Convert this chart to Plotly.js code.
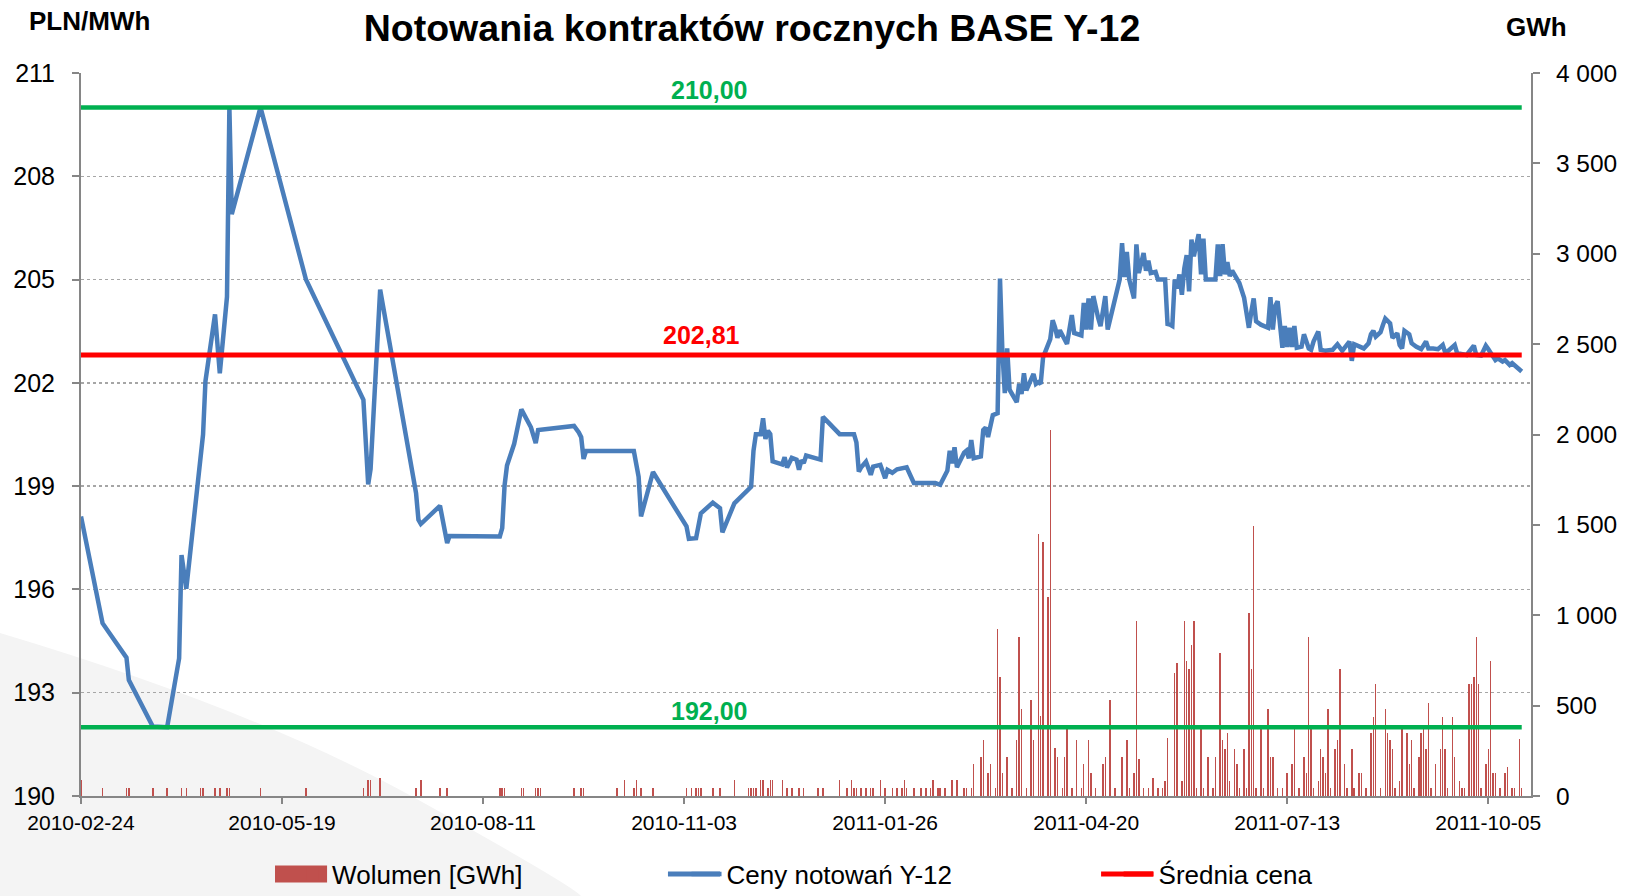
<!DOCTYPE html>
<html>
<head>
<meta charset="utf-8">
<script src="https://cdn.plot.ly/plotly-3.0.1.min.js"></script>
<style>html,body{margin:0;padding:0;background:#fff;}#chart{width:1626px;height:896px;}</style>
</head>
<body>
<div id="chart"></div>
<script>
// ---------- DATA ----------
const priceDates = [
'2010-02-24','2010-03-05','2010-03-15','2010-03-16','2010-03-26','2010-04-01','2010-04-06','2010-04-07','2010-04-09','2010-04-15',
'2010-04-16','2010-04-17','2010-04-21','2010-04-23','2010-04-26','2010-04-27','2010-04-28','2010-05-10','2010-05-29','2010-06-22',
'2010-06-24','2010-06-25','2010-06-29','2010-07-14','2010-07-15','2010-07-16','2010-07-24','2010-07-27','2010-07-28','2010-08-18',
'2010-08-19','2010-08-20','2010-08-21','2010-08-24','2010-08-27','2010-08-31','2010-09-02','2010-09-03','2010-09-18','2010-09-20',
'2010-09-21','2010-09-22','2010-09-23','2010-10-13','2010-10-14','2010-10-15','2010-10-16','2010-10-21','2010-11-04','2010-11-05',
'2010-11-08','2010-11-09','2010-11-10','2010-11-15','2010-11-18','2010-11-19','2010-11-24','2010-12-01','2010-12-02','2010-12-03',
'2010-12-05','2010-12-06','2010-12-07','2010-12-08','2010-12-09','2010-12-10','2010-12-14','2010-12-15','2010-12-16','2010-12-18',
'2010-12-20','2010-12-21','2010-12-22','2010-12-23','2010-12-24','2010-12-30','2010-12-31','2011-01-07','2011-01-13','2011-01-14',
'2011-01-15','2011-01-16','2011-01-18','2011-01-20','2011-01-21','2011-01-24','2011-01-26','2011-01-27','2011-01-29','2011-01-31',
'2011-02-04','2011-02-07','2011-02-16','2011-02-18','2011-02-21','2011-02-22','2011-02-23','2011-02-24','2011-02-25','2011-02-28',
'2011-03-01','2011-03-02','2011-03-03','2011-03-04','2011-03-07','2011-03-08','2011-03-09','2011-03-10','2011-03-11','2011-03-12',
'2011-03-14','2011-03-15','2011-03-16','2011-03-17','2011-03-18','2011-03-19','2011-03-22','2011-03-23','2011-03-24','2011-03-25',
'2011-03-26','2011-03-29','2011-03-30','2011-03-31','2011-04-01','2011-04-02','2011-04-05','2011-04-06','2011-04-07','2011-04-08',
'2011-04-09','2011-04-10','2011-04-12','2011-04-14','2011-04-15','2011-04-18','2011-04-19','2011-04-20','2011-04-21','2011-04-22',
'2011-04-23','2011-04-25','2011-04-26','2011-04-28','2011-04-29','2011-05-04','2011-05-05','2011-05-06','2011-05-07','2011-05-08',
'2011-05-10','2011-05-11','2011-05-12','2011-05-14','2011-05-15','2011-05-16','2011-05-17','2011-05-19','2011-05-20','2011-05-23',
'2011-05-24','2011-05-25','2011-05-26','2011-05-27','2011-05-28','2011-05-29','2011-05-30','2011-05-31','2011-06-01','2011-06-02',
'2011-06-03','2011-06-04','2011-06-06','2011-06-07','2011-06-08','2011-06-09','2011-06-13','2011-06-14','2011-06-15','2011-06-16',
'2011-06-17','2011-06-18','2011-06-19','2011-06-20','2011-06-21','2011-06-23','2011-06-25','2011-06-27','2011-06-28','2011-06-29',
'2011-06-30','2011-07-02','2011-07-05','2011-07-06','2011-07-07','2011-07-08','2011-07-09','2011-07-10','2011-07-11','2011-07-12',
'2011-07-13','2011-07-14','2011-07-15','2011-07-16','2011-07-17','2011-07-19','2011-07-20','2011-07-22','2011-07-23','2011-07-24',
'2011-07-26','2011-07-27','2011-07-29','2011-08-01','2011-08-03','2011-08-05','2011-08-08','2011-08-09','2011-08-10','2011-08-14',
'2011-08-16','2011-08-17','2011-08-18','2011-08-19','2011-08-21','2011-08-22','2011-08-23','2011-08-25','2011-08-26','2011-08-28',
'2011-08-29','2011-08-30','2011-08-31','2011-09-02','2011-09-03','2011-09-05','2011-09-07','2011-09-09','2011-09-10','2011-09-12',
'2011-09-14','2011-09-16','2011-09-17','2011-09-18','2011-09-21','2011-09-22','2011-09-24','2011-09-26','2011-09-29','2011-09-30',
'2011-10-02','2011-10-04','2011-10-05','2011-10-07','2011-10-08','2011-10-09','2011-10-11','2011-10-12','2011-10-14','2011-10-15',
'2011-10-17','2011-10-19'
];
const priceValues = [
198.12,195.02,194.02,193.37,192.02,192.00,194.00,197.00,196.02,199.96,
200.50,202.05,203.99,202.28,204.50,210.00,206.90,210.00,205.00,201.51,
199.05,199.50,204.71,198.80,198.02,197.90,198.43,197.35,197.55,197.54,
197.78,199.03,199.60,200.23,201.23,200.71,200.25,200.63,200.75,200.56,
200.42,199.79,200.02,200.02,199.60,199.27,198.12,199.41,197.83,197.47,
197.49,197.78,198.21,198.52,198.36,197.66,198.50,198.98,200.03,200.51,
200.51,200.97,200.37,200.61,200.51,199.72,199.63,199.84,199.54,199.82,
199.77,199.48,199.75,199.67,199.89,199.77,201.01,200.51,200.51,200.27,
199.42,199.55,199.71,199.33,199.57,199.62,199.23,199.47,199.39,199.49,
199.55,199.09,199.09,199.04,199.45,200.03,199.66,200.13,199.55,199.97,
200.03,199.81,200.34,199.81,199.86,200.63,200.70,200.43,200.72,201.06,
201.12,205.03,202.90,201.70,203.00,201.80,201.44,201.97,201.68,202.28,
201.78,202.26,201.97,202.02,201.97,202.74,203.27,203.82,203.61,203.31,
203.53,203.40,203.13,203.97,203.45,203.38,204.32,203.55,204.45,203.55,
204.52,203.89,203.65,204.52,203.55,205.00,206.06,205.07,205.80,205.00,
204.45,206.02,205.19,205.77,205.26,205.55,205.19,205.22,205.00,205.00,
203.71,203.69,203.65,205.00,204.74,205.15,204.56,205.32,205.71,204.66,
206.16,205.68,206.32,205.15,206.19,205.00,205.00,206.02,205.10,206.03,
205.15,205.51,205.10,205.26,205.15,204.90,204.47,203.60,204.06,204.45,
203.79,203.69,203.60,204.49,203.55,204.23,204.37,203.52,203.02,203.65,
203.04,203.60,203.04,203.65,203.02,203.05,203.41,203.00,202.96,203.20,
203.49,202.96,202.93,202.96,203.12,202.93,203.20,202.64,203.12,203.00,
203.15,203.41,203.51,203.34,203.47,203.68,203.87,203.73,203.31,203.44,
203.10,203.00,203.51,203.41,203.15,203.05,202.98,203.20,203.00,203.00,
202.98,203.10,202.89,202.91,203.10,202.86,202.83,202.81,203.08,202.81,
202.79,203.08,202.98,202.73,202.66,202.71,202.62,202.66,202.52,202.57,
202.47,202.33
];

const volumeDates = [
'2010-02-24','2010-03-05','2010-03-15','2010-03-16','2010-03-26','2010-04-01','2010-04-07','2010-04-09','2010-04-15','2010-04-16',
'2010-04-21','2010-04-23','2010-04-26','2010-04-27','2010-05-10','2010-05-29','2010-06-22','2010-06-24','2010-06-25','2010-06-29',
'2010-07-14','2010-07-16','2010-07-24','2010-07-27','2010-08-18','2010-08-19','2010-08-20','2010-08-27','2010-08-28','2010-09-02',
'2010-09-03','2010-09-04','2010-09-18','2010-09-21','2010-09-22','2010-10-06','2010-10-09','2010-10-13','2010-10-14','2010-10-16',
'2010-10-21','2010-11-04','2010-11-06','2010-11-08','2010-11-09','2010-11-10','2010-11-15','2010-11-18','2010-11-24','2010-11-30',
'2010-12-01','2010-12-02','2010-12-03','2010-12-05','2010-12-06','2010-12-08','2010-12-09','2010-12-10','2010-12-14','2010-12-16',
'2010-12-18','2010-12-21','2010-12-23','2010-12-29','2010-12-31','2011-01-07','2011-01-10','2011-01-12','2011-01-13','2011-01-14',
'2011-01-16','2011-01-18','2011-01-20','2011-01-21','2011-01-24','2011-01-26','2011-01-29','2011-01-31','2011-02-02','2011-02-03',
'2011-02-04','2011-02-07','2011-02-10','2011-02-12','2011-02-14','2011-02-15','2011-02-17','2011-02-18','2011-02-20','2011-02-23',
'2011-02-25','2011-02-28','2011-03-01','2011-03-03','2011-03-04','2011-03-07','2011-03-08','2011-03-10','2011-03-11','2011-03-13',
'2011-03-14','2011-03-15','2011-03-16','2011-03-18','2011-03-20','2011-03-22','2011-03-23','2011-03-24','2011-03-26','2011-03-28',
'2011-03-29','2011-03-31','2011-04-01','2011-04-02','2011-04-04','2011-04-05','2011-04-07','2011-04-08','2011-04-10','2011-04-11',
'2011-04-12','2011-04-14','2011-04-16','2011-04-18','2011-04-19','2011-04-21','2011-04-22','2011-04-24','2011-04-27','2011-04-28',
'2011-04-30','2011-05-02','2011-05-05','2011-05-07','2011-05-08','2011-05-10','2011-05-11','2011-05-12','2011-05-14','2011-05-16',
'2011-05-18','2011-05-20','2011-05-22','2011-05-23','2011-05-24','2011-05-27','2011-05-28','2011-05-30','2011-05-31','2011-06-01',
'2011-06-02','2011-06-03','2011-06-04','2011-06-05','2011-06-07','2011-06-08','2011-06-10','2011-06-12','2011-06-13','2011-06-15',
'2011-06-16','2011-06-17','2011-06-18','2011-06-19','2011-06-21','2011-06-22','2011-06-23','2011-06-25','2011-06-26','2011-06-27',
'2011-06-28','2011-06-29','2011-06-30','2011-07-02','2011-07-03','2011-07-05','2011-07-06','2011-07-07','2011-07-09','2011-07-11',
'2011-07-13','2011-07-15','2011-07-16','2011-07-18','2011-07-20','2011-07-21','2011-07-22','2011-07-23','2011-07-24','2011-07-26',
'2011-07-27','2011-07-28','2011-07-29','2011-07-30','2011-07-31','2011-08-02','2011-08-03','2011-08-04','2011-08-06','2011-08-07',
'2011-08-09','2011-08-10','2011-08-12','2011-08-13','2011-08-15','2011-08-17','2011-08-18','2011-08-19','2011-08-21','2011-08-23',
'2011-08-24','2011-08-25','2011-08-26','2011-08-27','2011-08-29','2011-08-30','2011-09-01','2011-09-02','2011-09-03','2011-09-04',
'2011-09-06','2011-09-07','2011-09-08','2011-09-09','2011-09-10','2011-09-11','2011-09-13','2011-09-15','2011-09-16','2011-09-17',
'2011-09-18','2011-09-20','2011-09-21','2011-09-23','2011-09-24','2011-09-25','2011-09-27','2011-09-28','2011-09-29','2011-09-30',
'2011-10-01','2011-10-02','2011-10-04','2011-10-05','2011-10-06','2011-10-07','2011-10-08','2011-10-10','2011-10-12','2011-10-13',
'2011-10-15','2011-10-16','2011-10-18','2011-10-19'
];
const volumeValues = [
88,44,44,44,44,44,44,44,44,44,
44,44,44,44,44,44,44,88,88,100,
44,88,44,44,44,44,44,44,44,44,
44,44,44,44,44,44,88,44,88,44,
44,44,44,44,44,44,44,44,88,44,
44,44,44,88,88,44,88,88,88,44,
44,44,44,44,44,88,44,88,44,44,
44,44,44,44,88,44,44,44,44,88,
44,44,44,44,44,88,44,44,44,88,
88,44,44,44,175,217,308,129,175,44,
925,658,129,217,44,308,880,483,44,529,
308,1452,442,1407,1100,2026,263,217,44,217,
368,44,308,44,175,308,129,44,175,217,
529,44,217,308,44,129,967,203,44,44,
101,44,44,83,322,682,737,83,967,746,
700,834,967,44,368,44,217,44,217,792,
308,262,350,83,262,175,44,262,44,1013,
700,1496,44,368,44,483,217,217,44,44,
129,175,368,44,217,129,880,368,44,83,
262,217,129,483,44,262,308,704,175,44,
262,44,129,129,44,350,438,617,44,483,
350,308,262,44,83,368,350,175,308,44,
217,350,368,262,512,44,175,262,438,262,
44,438,217,83,44,44,617,617,658,880,
617,44,175,262,746,129,129,44,130,160,
44,44,315,44
];

const bandDates = ['2010-02-24','2011-10-19'];
const maxPrice = [210.00, 210.00];
const minPrice = [192.00, 192.00];
const avgPrice = [202.81, 202.81];

const xTickDates = ['2010-02-24','2010-05-19','2010-08-11','2010-11-03','2011-01-26','2011-04-20','2011-07-13','2011-10-05'];
const priceTicks = [190,193,196,199,202,205,208,211];
const volumeTicks = [0,500,1000,1500,2000,2500,3000,3500,4000];
const volumeTickLabels = ['0','500','1 000','1 500','2 000','2 500','3 000','3 500','4 000'];

const seriesNames = ['Wolumen [GWh]','Ceny notowań Y-12','Średnia cena'];
const labelMax = '210,00', labelAvg = '202,81', labelMin = '192,00';

// ---------- CHART ----------
const FONT = 'Liberation Sans, Arial, Helvetica, sans-serif';
const AXIS_GRAY = '#868686';
const GREEN = '#00B050', RED = '#FF0000', BLUE = '#4A7EBB', BAR = '#C0504D';

const traces = [
  {type:'bar', name:seriesNames[0], x:volumeDates, y:volumeValues, yaxis:'y',
   width:0.6*86400000, marker:{color:BAR, line:{width:0}}, legend:'legend'},
  {type:'scatter', mode:'lines', name:seriesNames[1], x:priceDates, y:priceValues, yaxis:'y2',
   line:{color:BLUE, width:4.5, shape:'linear'}, legend:'legend2'},
  {type:'scatter', mode:'lines', name:seriesNames[2], x:bandDates, y:avgPrice, yaxis:'y2',
   line:{color:RED, width:5}, legend:'legend3'},
  {type:'scatter', mode:'lines', name:'max', x:bandDates, y:maxPrice, yaxis:'y2',
   line:{color:GREEN, width:4.5}, showlegend:false},
  {type:'scatter', mode:'lines', name:'min', x:bandDates, y:minPrice, yaxis:'y2',
   line:{color:GREEN, width:4.5}, showlegend:false}
];

// legend row position (paper units, plot area spans 0..1)
const LEG_Y = -0.108;
const legendBase = {orientation:'h', yanchor:'middle', xanchor:'left', y:LEG_Y,
  font:{family:FONT, size:26, color:'#000'}, bgcolor:'rgba(0,0,0,0)', borderwidth:0, traceorder:'normal'};

const layout = {
  width:1626, height:896,
  margin:{l:81, r:95, t:73, b:100, pad:0, autoexpand:false},
  paper_bgcolor:'#ffffff', plot_bgcolor:'rgba(0,0,0,0)',
  font:{family:FONT, color:'#000'},
  title:{text:'<b>Notowania kontraktów rocznych BASE Y-12</b>', font:{family:FONT, size:37.5, color:'#000'},
         xref:'container', x:0.4625, xanchor:'center', yref:'container', y:0.969, yanchor:'middle'},
  showlegend:true,
  legend:Object.assign({}, legendBase, {x:0.1456}),
  legend2:Object.assign({}, legendBase, {x:0.4176}),
  legend3:Object.assign({}, legendBase, {x:0.7156}),
  bargap:0,
  xaxis:{type:'date', range:['2010-02-24','2011-10-22 21:00'], tickvals:xTickDates, ticktext:xTickDates,
         ticks:'outside', ticklen:6, tickwidth:2, tickcolor:AXIS_GRAY, showline:true, linecolor:AXIS_GRAY, linewidth:2,
         showgrid:false, zeroline:false, tickfont:{family:FONT, size:21, color:'#000'}, ticklabelstandoff:1},
  yaxis:{side:'right', range:[0,4000], tickvals:volumeTicks, ticktext:volumeTickLabels,
         ticks:'outside', ticklen:7, tickwidth:2, tickcolor:AXIS_GRAY, showline:true, linecolor:AXIS_GRAY, linewidth:2,
         showgrid:false, zeroline:false, tickfont:{family:FONT, size:24.5, color:'#000'}, ticklabelstandoff:11, fixedrange:true},
  yaxis2:{overlaying:'y', side:'left', range:[190,211], tickvals:priceTicks, ticktext:priceTicks.map(String),
         ticks:'outside', ticklen:7, tickwidth:2, tickcolor:AXIS_GRAY, showline:true, linecolor:AXIS_GRAY, linewidth:2,
         showgrid:true, gridcolor:'#A6A6A6', gridwidth:1.3, griddash:'dot', zeroline:false,
         tickfont:{family:FONT, size:25, color:'#000'}, ticklabelstandoff:12},
  shapes:[
    {type:'path', xref:'paper', yref:'paper', layer:'below',
     path:'M -0.0559,0.2254 Q 0.12,0.12 0.2303,-0.0028 T 0.3448,-0.1383 L -0.0559,-0.1383 Z',
     fillcolor:'#F4F4F4', line:{width:0}},
    // wider legend keys, as in the original
    {type:'rect', xref:'paper', yref:'paper', layer:'above',
     x0:0.1338, x1:0.1697, y0:LEG_Y-0.0118, y1:LEG_Y+0.0118, fillcolor:BAR, line:{width:0}},
    {type:'line', xref:'paper', yref:'paper', layer:'above',
     x0:0.4048, x1:0.4407, y0:LEG_Y, y1:LEG_Y, line:{color:BLUE, width:5}},
    {type:'line', xref:'paper', yref:'paper', layer:'above',
     x0:0.7035, x1:0.7393, y0:LEG_Y, y1:LEG_Y, line:{color:RED, width:5}}
  ],
  annotations:[
    {text:'<b>PLN/MWh</b>', xref:'paper', yref:'paper', x:-0.0373, y:1.072, xanchor:'left', yanchor:'middle',
     showarrow:false, font:{family:FONT, size:26, color:'#000'}},
    {text:'<b>GWh</b>', xref:'paper', yref:'paper', x:0.9815, y:1.0636, xanchor:'left', yanchor:'middle',
     showarrow:false, font:{family:FONT, size:26, color:'#000'}},
    {text:'<b>'+labelMax+'</b>', xref:'paper', yref:'y2', x:0.433, y:210.52, xanchor:'center', yanchor:'middle',
     showarrow:false, font:{family:FONT, size:25, color:GREEN}},
    {text:'<b>'+labelAvg+'</b>', xref:'paper', yref:'y2', x:0.428, y:203.39, xanchor:'center', yanchor:'middle',
     showarrow:false, font:{family:FONT, size:25, color:RED}},
    {text:'<b>'+labelMin+'</b>', xref:'paper', yref:'y2', x:0.433, y:192.48, xanchor:'center', yanchor:'middle',
     showarrow:false, font:{family:FONT, size:25, color:GREEN}}
  ]
};

Plotly.newPlot('chart', traces, layout, {displayModeBar:false, responsive:false, staticPlot:true});
</script>
</body>
</html>
